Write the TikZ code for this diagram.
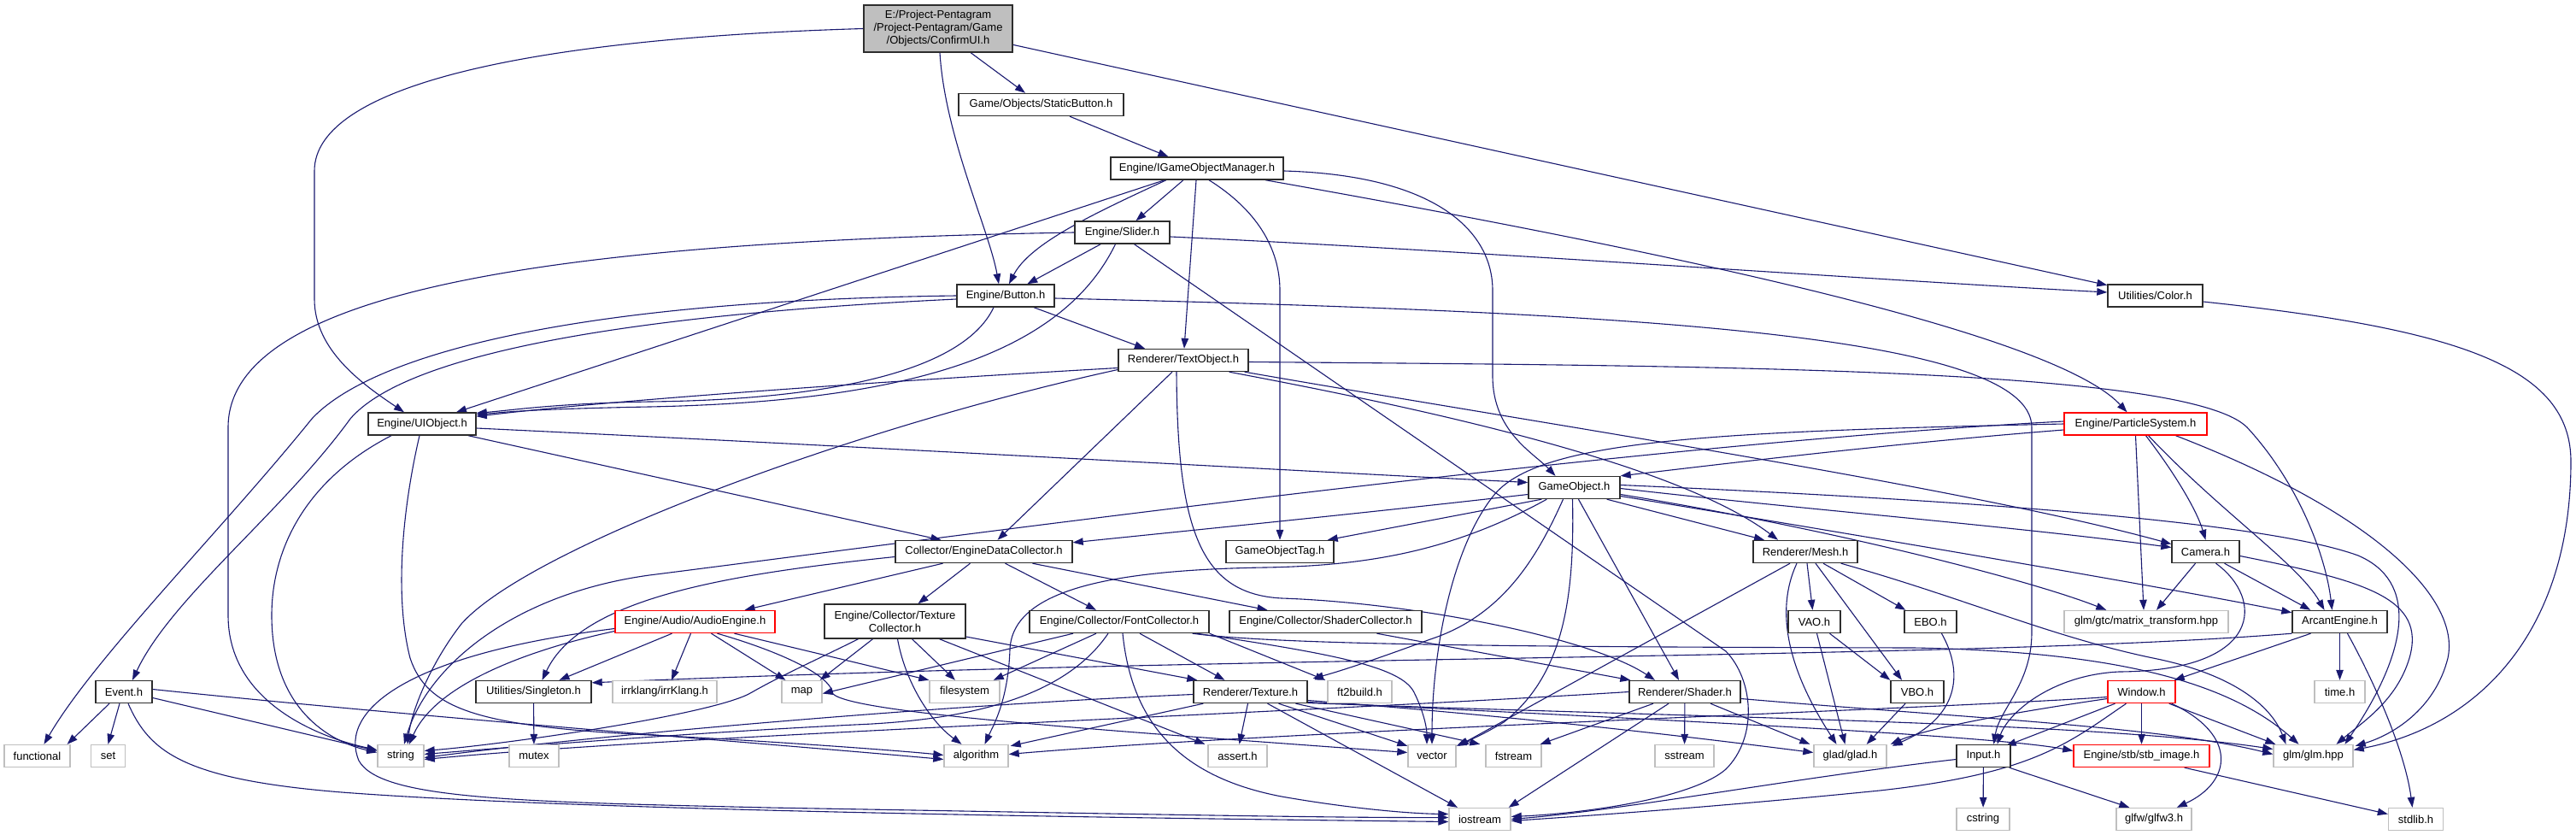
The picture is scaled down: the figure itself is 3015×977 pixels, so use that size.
\documentclass[tikz,border=0pt]{standalone}
\usepackage{fontspec}
\setmainfont{Liberation Sans}
\usetikzlibrary{arrows.meta,calc}
\definecolor{edgecol}{RGB}{25,25,112}
\definecolor{nodebd}{RGB}{45,45,45}
\definecolor{extbd}{RGB}{191,191,191}
\definecolor{redbd}{RGB}{255,0,0}
\definecolor{rootfill}{RGB}{191,191,191}
\pgfdeclarelayer{back}
\pgfdeclarelayer{bg}
\pgfsetlayers{back,bg,main}
\tikzset{
  nb/.style={draw=nodebd, line width=1.4pt, fill=white, minimum height=26pt, inner sep=0pt, font=\fontsize{13}{15}\selectfont, text=black},
  ext/.style={nb, draw=extbd},
  redn/.style={nb, draw=redbd},
  rootn/.style={nb, fill=rootfill, align=center},
  dep/.style={draw=edgecol, line width=1.1pt, -{Triangle[length=12pt,width=8.5pt]}}
}
\begin{document}
\begin{tikzpicture}[x=1pt,y=-1pt]
\begin{pgfonlayer}{back}
\fill[white] (0,0) rectangle (3015,977);
\end{pgfonlayer}
\useasboundingbox (0,0) rectangle (3015,977);

% ---------------- nodes ----------------
\node[rootn, minimum width=174pt, minimum height=55pt] (root) at (1098,33.5) {E:/Project-Pentagram\\/Project-Pentagram/Game\\/Objects/ConfirmUI.h};
\node[nb, minimum width=193pt] (sbtn) at (1218.5,122.5) {Game/Objects/StaticButton.h};
\node[nb, minimum width=202pt] (igom) at (1401,197) {Engine/IGameObjectManager.h};
\node[nb, minimum width=111pt] (slider) at (1313.5,272) {Engine/Slider.h};
\node[nb, minimum width=114pt] (button) at (1177,346) {Engine/Button.h};
\node[nb, minimum width=111pt] (color) at (2522.5,346) {Utilities/Color.h};
\node[nb, minimum width=152pt] (textobj) at (1385,421.5) {Renderer/TextObject.h};
\node[nb, minimum width=126pt] (uiobj) at (494,496) {Engine/UIObject.h};
\node[redn, minimum width=167pt] (particle) at (2499.5,496) {Engine/ParticleSystem.h};
\node[nb, minimum width=107pt] (gameobj) at (1842.5,570.5) {GameObject.h};
\node[nb, minimum width=207pt] (edc) at (1151.5,645.5) {Collector/EngineDataCollector.h};
\node[nb, minimum width=126pt] (gotag) at (1498,645.5) {GameObjectTag.h};
\node[nb, minimum width=122pt] (mesh) at (2113,645.5) {Renderer/Mesh.h};
\node[nb, minimum width=79pt] (camera) at (2581.5,645.5) {Camera.h};
\node[redn, minimum width=187pt] (audio) at (813.5,727.5) {Engine/Audio/AudioEngine.h};
\node[nb, minimum width=165pt, minimum height=40pt, align=center] (texcol) at (1047.5,727) {Engine/Collector/Texture\\Collector.h};
\node[nb, minimum width=210pt] (fontcol) at (1310,727.5) {Engine/Collector/FontCollector.h};
\node[nb, minimum width=225pt] (shadercol) at (1551.5,727.5) {Engine/Collector/ShaderCollector.h};
\node[nb, minimum width=61pt] (vao) at (2123.5,727.5) {VAO.h};
\node[nb, minimum width=61pt] (ebo) at (2259.5,727.5) {EBO.h};
\node[ext, minimum width=192pt] (glmmt) at (2512,727.5) {glm/gtc/matrix\_transform.hpp};
\node[nb, minimum width=111pt] (arcant) at (2738.5,727.5) {ArcantEngine.h};
\node[nb, minimum width=66pt] (event) at (145,809.5) {Event.h};
\node[nb, minimum width=135pt] (singleton) at (624.5,809.5) {Utilities/Singleton.h};
\node[ext, minimum width=122pt] (irrklang) at (778,809.5) {irrklang/irrKlang.h};
\node[ext, minimum width=47pt] (map) at (938.5,809.5) {map};
\node[ext, minimum width=82pt] (filesystem) at (1129,809.5) {filesystem};
\node[nb, minimum width=133pt] (texture) at (1463.5,809.5) {Renderer/Texture.h};
\node[ext, minimum width=75pt] (ft2) at (1591.5,809.5) {ft2build.h};
\node[nb, minimum width=130pt] (shader) at (1972,809.5) {Renderer/Shader.h};
\node[nb, minimum width=62pt] (vbo) at (2244,809.5) {VBO.h};
\node[redn, minimum width=79pt] (window) at (2506.5,809.5) {Window.h};
\node[ext, minimum width=59pt] (timeh) at (2738.5,809.5) {time.h};
\node[ext, minimum width=77pt] (functional) at (43.5,884.5) {functional};
\node[ext, minimum width=40pt] (set) at (126.5,884.5) {set};
\node[ext, minimum width=54pt] (string) at (469,884.5) {string};
\node[ext, minimum width=58pt] (mutex) at (625,884.5) {mutex};
\node[ext, minimum width=75pt] (algorithm) at (1142.5,884.5) {algorithm};
\node[ext, minimum width=69pt] (asserth) at (1448.5,884.5) {assert.h};
\node[ext, minimum width=56pt] (vector) at (1676,884.5) {vector};
\node[ext, minimum width=65pt] (fstream) at (1771.5,884.5) {fstream};
\node[ext, minimum width=69pt] (sstream) at (1971.5,884.5) {sstream};
\node[ext, minimum width=85pt] (glad) at (2165.5,884.5) {glad/glad.h};
\node[nb, minimum width=63pt] (input) at (2321.5,884.5) {Input.h};
\node[redn, minimum width=159pt] (stb) at (2506.5,884.5) {Engine/stb/stb\_image.h};
\node[ext, minimum width=93pt] (glm) at (2707.5,884.5) {glm/glm.hpp};
\node[ext, minimum width=72pt] (iostream) at (1732,958.5) {iostream};
\node[ext, minimum width=62pt] (cstring) at (2321,958.5) {cstring};
\node[ext, minimum width=88pt] (glfw) at (2521,958.5) {glfw/glfw3.h};
\node[ext, minimum width=64pt] (stdlib) at (2827.5,958.5) {stdlib.h};

% ---------------- edges ----------------
\begin{pgfonlayer}{bg}
% root
\draw[dep] (root) -- (sbtn);
\draw[dep] (root) -- (color);
\draw[dep] ($(root.south)+(2,0)$) .. controls (1106,160) and (1158,270) .. ($(button.north)+(-8,0)$);
\draw[dep] (root.west) .. controls (620,45) and (368,100) .. (368,200) -- (368,350) .. controls (368,410) and (425,450) .. ($(uiobj.north)+(-21,0)$);
% static button
\draw[dep] (sbtn) -- (igom);
% igom
\draw[dep] (igom) -- (slider);
\draw[dep] ($(igom.south)+(-36,0)$) .. controls (1280,250) and (1205,285) .. ($(button.north)+(4,0)$);
\draw[dep] ($(igom.south)+(-38,0)$) -- ($(uiobj.north)+(40,0)$);
\draw[dep] (igom) -- (textobj);
\draw[dep] ($(igom.south)+(14,0)$) .. controls (1470,245) and (1498,290) .. (1498,340) -- (gotag.north);
\draw[dep] ($(igom.east)+(0,3)$) .. controls (1680,205) and (1747,270) .. (1747,340) -- (1747,440) .. controls (1747,505) and (1795,530) .. ($(gameobj.north)+(-22,0)$);
\draw[dep] ($(igom.south)+(80,0)$) .. controls (1900,285) and (2400,385) .. ($(particle.north)+(-10,0)$);
% slider
\draw[dep] (slider) -- (button);
\draw[dep] ($(slider.south)+(-8,0)$) .. controls (1240,420) and (1050,470) .. (760,476) .. controls (650,478) and (600,481) .. ($(uiobj.north east)+(0,3)$);
\draw[dep] ($(slider.east)+(0,5)$) .. controls (1700,292) and (2200,328) .. ($(color.west)+(0,-4)$);
\draw[dep] (slider.west) .. controls (700,282) and (267,330) .. (267,500) -- (267,720) .. controls (267,820) and (370,862) .. ($(string.west)+(0,-7)$);
\draw[dep] ($(slider.south)+(14,0)$) -- (2020,762) .. controls (2052,795) and (2058,862) .. (2020,900) .. controls (1980,935) and (1850,952) .. ($(iostream.east)+(0,-3)$);
% button
\draw[dep] ($(button.south)+(-14,0)$) .. controls (1125,440) and (950,468) .. (760,470) .. controls (650,472) and (600,480) .. ($(uiobj.north east)+(0,1)$);
\draw[dep] ($(button.south)+(33,0)$) -- ($(textobj.north)+(-45,0)$);
\draw[dep] (button.west) .. controls (650,352) and (430,420) .. (365,490) .. controls (260,620) and (110,770) .. ($(functional.north)+(8,0)$);
\draw[dep] ($(button.west)+(0,4)$) .. controls (700,370) and (470,420) .. (410,490) .. controls (330,600) and (200,700) .. ($(event.north)+(10,0)$);
\draw[dep] ($(button.east)+(0,3)$) .. controls (1900,365) and (2378,390) .. (2378,500) -- (2378,740) .. controls (2378,800) and (2340,830) .. ($(input.north)+(12,0)$);
% text object
\draw[dep] ($(textobj.west)+(0,9)$) .. controls (1000,448) and (700,470) .. ($(uiobj.north east)+(0,5)$);
\draw[dep] ($(textobj.west)+(0,11)$) .. controls (1000,500) and (620,640) .. (540,730) .. controls (505,775) and (482,830) .. ($(string.north)+(8,0)$);
\draw[dep] ($(textobj.south)+(-13,0)$) -- ($(edc.north)+(16,0)$);
\draw[dep] ($(textobj.south)+(-8,0)$) .. controls (1378,620) and (1405,695) .. (1500,700) .. controls (1650,705) and (1860,745) .. ($(shader.north)+(-35,0)$);
\draw[dep] ($(textobj.south east)+(-23,0)$) .. controls (1650,475) and (1960,540) .. ($(mesh.north)+(-32,0)$);
\draw[dep] ($(textobj.south east)+(-5,0)$) .. controls (1800,495) and (2300,570) .. ($(camera.west)+(0,-9)$);
\draw[dep] ($(textobj.east)+(0,2)$) .. controls (2000,428) and (2560,430) .. (2630,500) .. controls (2690,565) and (2722,650) .. ($(arcant.north)+(-9,0)$);
% ui object
\draw[dep] ($(uiobj.east)+(0,5)$) .. controls (1000,522) and (1500,550) .. ($(gameobj.west)+(0,-6)$);
\draw[dep] ($(uiobj.south)+(54,0)$) -- ($(edc.north)+(-50,0)$);
\draw[dep] ($(uiobj.south)+(-36,0)$) .. controls (360,560) and (318,640) .. (318,720) .. controls (318,820) and (375,865) .. ($(string.west)+(0,-4)$);
\draw[dep] ($(uiobj.south)+(-3,0)$) .. controls (470,600) and (462,700) .. (480,770) .. controls (500,830) and (560,850) .. (760,860) .. controls (900,867) and (1050,878) .. ($(algorithm.west)+(0,-1)$);
% engine data collector
\draw[dep] ($(edc.west)+(0,6)$) .. controls (850,672) and (680,700) .. ($(singleton.north)+(10,0)$);
\draw[dep] ($(edc.south)+(-48,0)$) -- ($(audio.north)+(58,0)$);
\draw[dep] ($(edc.south)+(-16,0)$) -- ($(texcol.north)+(27,0)$);
\draw[dep] ($(edc.south)+(25,0)$) -- ($(fontcol.north)+(-27,0)$);
\draw[dep] ($(edc.south)+(57,0)$) -- ($(shadercol.north)+(-68,0)$);
% audio
\draw[dep] ($(audio.south)+(-27,0)$) -- ($(singleton.north)+(30,0)$);
\draw[dep] ($(audio.south)+(-5,0)$) -- ($(irrklang.north)+(8,0)$);
\draw[dep] ($(audio.south)+(19,0)$) -- ($(map.north)+(-19,0)$);
\draw[dep] ($(audio.south)+(46,0)$) -- (filesystem.north west);
\draw[dep] ($(audio.south)+(26,0)$) .. controls (905,760) and (972,788) .. (975,812) .. controls (1000,835) and (1300,855) .. ($(vector.west)+(0,-4)$);
\draw[dep] ($(audio.west)+(0,11)$) .. controls (620,760) and (510,800) .. ($(string.north)+(10,0)$);
\draw[dep] ($(audio.west)+(0,8)$) .. controls (480,765) and (395,830) .. (420,890) .. controls (445,935) and (600,938) .. (900,945) .. controls (1300,952) and (1550,957) .. ($(iostream.west)+(0,-2)$);
% texture collector
\draw[dep] ($(texcol.south)+(-26,0)$) -- ($(map.north east)+(-3,0)$);
\draw[dep] ($(texcol.south)+(20,0)$) -- ($(filesystem.north)+(-11,0)$);
\draw[dep] ($(texcol.south)+(3,0)$) .. controls (1060,800) and (1090,845) .. ($(algorithm.north)+(-17,0)$);
\draw[dep] ($(texcol.south)+(-43,0)$) .. controls (960,770) and (915,790) .. (880,810) .. controls (840,835) and (600,870) .. ($(string.east)+(0,-6)$);
\draw[dep] ($(texcol.south)+(52,0)$) -- ($(asserth.north west)+(-3,0)$);
\draw[dep] ($(texcol.east)+(0,18)$) -- ($(texture.north west)+(5,0)$);
% font collector
\draw[dep] ($(fontcol.south)+(-54,0)$) -- ($(map.east)+(0,2)$);
\draw[dep] ($(fontcol.south)+(-27,0)$) -- ($(filesystem.north east)+(-8,0)$);
\draw[dep] ($(fontcol.south)+(-13,0)$) .. controls (1250,810) and (1150,842) .. (1000,848) .. controls (800,858) and (600,874) .. ($(string.east)+(0,-2)$);
\draw[dep] ($(fontcol.south)+(24,0)$) -- ($(texture.north)+(-30,0)$);
\draw[dep] ($(fontcol.south)+(4,0)$) .. controls (1325,850) and (1385,910) .. (1500,932) .. controls (1580,946) and (1650,952) .. ($(iostream.west)+(0,-6)$);
\draw[dep] ($(fontcol.south east)+(-15,0)$) .. controls (1560,765) and (1640,780) .. (1655,810) .. controls (1665,830) and (1670,850) .. ($(vector.north)+(-6,0)$);
\draw[dep] (fontcol.south east) -- ($(ft2.north west)+(-2,0)$);
\draw[dep] ($(fontcol.south east)+(-20,0)$) .. controls (1500,755) and (1800,757) .. (2240,758) .. controls (2450,762) and (2600,790) .. ($(glm.north)+(-17,0)$);
% texture
\draw[dep] ($(texture.west)+(0,3)$) .. controls (1100,825) and (700,860) .. ($(string.east)+(0,2)$);
\draw[dep] ($(texture.south west)+(12,0)$) -- ($(algorithm.north east)+(2,2)$);
\draw[dep] ($(texture.south)+(-3,0)$) -- ($(asserth.north)+(2,0)$);
\draw[dep] ($(texture.south)+(33,0)$) -- ($(vector.north west)+(0,2)$);
\draw[dep] ($(texture.south)+(53,0)$) -- ($(fstream.north west)+(-6,0)$);
\draw[dep] ($(texture.south)+(20,0)$) -- ($(iostream.north)+(-26,0)$);
\draw[dep] ($(texture.east)+(0,10)$) .. controls (1800,840) and (2000,865) .. ($(glad.west)+(0,-4)$);
\draw[dep] ($(texture.east)+(0,12)$) .. controls (1900,840) and (2330,860) .. ($(stb.west)+(0,-6)$);
\draw[dep] ($(texture.east)+(0,13)$) .. controls (2000,840) and (2450,845) .. ($(glm.west)+(0,-8)$);
% shader
\draw[dep] ($(shader.south)+(-37,0)$) -- ($(fstream.north east)+(-2,0)$);
\draw[dep] ($(shader.south)+(-19,0)$) -- ($(iostream.north east)+(-3,0)$);
\draw[dep] (shader) -- (sstream);
\draw[dep] ($(shader.south)+(30,0)$) -- ($(glad.north west)+(-4,0)$);
\draw[dep] ($(shader.east)+(0,8)$) .. controls (2300,840) and (2530,850) .. ($(glm.west)+(0,-2)$);
\draw[dep] (shader.west) .. controls (1500,835) and (800,860) .. ($(string.east)+(0,4)$);
% shader collector
\draw[dep] ($(shadercol.south)+(60,0)$) -- ($(shader.north west)+(2,0)$);
% mesh
\draw[dep] ($(mesh.south)+(-18,0)$) -- ($(vector.north east)+(2,2)$);
\draw[dep] ($(mesh.south)+(-10,0)$) .. controls (2070,730) and (2110,810) .. ($(glad.north)+(-16,0)$);
\draw[dep] ($(mesh.south)+(2,0)$) -- ($(vao.north)+(-2,0)$);
\draw[dep] ($(mesh.south)+(12,0)$) -- ($(vbo.north)+(-18,0)$);
\draw[dep] ($(mesh.south)+(21,0)$) -- ($(ebo.north west)+(2,0)$);
\draw[dep] ($(mesh.south east)+(-20,0)$) .. controls (2300,700) and (2400,745) .. (2520,770) .. controls (2620,790) and (2660,830) .. ($(glm.north)+(-32,0)$);
% vao vbo ebo
\draw[dep] ($(vao.south)+(3,0)$) -- ($(glad.north)+(-6,0)$);
\draw[dep] ($(vao.south)+(18,0)$) -- (vbo.north west);
\draw[dep] ($(vbo.south)+(-14,0)$) -- ($(glad.north east)+(-24,0)$);
\draw[dep] ($(ebo.south)+(13,0)$) .. controls (2300,790) and (2290,840) .. ($(glad.north east)+(6,2)$);
% camera
\draw[dep] ($(camera.south)+(-12,0)$) -- ($(glmmt.north)+(12,0)$);
\draw[dep] ($(camera.south)+(22,0)$) -- ($(arcant.north west)+(22,0)$);
\draw[dep] ($(camera.east)+(0,5)$) .. controls (2770,680) and (2840,700) .. (2820,770) .. controls (2805,820) and (2765,845) .. ($(glm.north)+(27,0)$);
\draw[dep] ($(camera.south)+(12,0)$) .. controls (2650,700) and (2650,785) .. (2480,786) .. controls (2400,790) and (2350,835) .. ($(input.north)+(16,0)$);
% particle system
\draw[dep] ($(particle.west)+(0,7)$) .. controls (2200,520) and (2000,545) .. (gameobj.north east);
\draw[dep] ($(particle.west)+(0,-3)$) .. controls (1900,520) and (1100,630) .. (760,673) .. controls (600,695) and (500,780) .. ($(string.north)+(4,0)$);
\draw[dep] (particle.west) .. controls (2000,505) and (1800,515) .. (1748,580) .. controls (1700,640) and (1676,760) .. (vector.north);
\draw[dep] (particle.south) -- ($(glmmt.north)+(-3,0)$);
\draw[dep] ($(particle.south)+(12,0)$) .. controls (2550,560) and (2572,600) .. (camera.north);
\draw[dep] ($(particle.south)+(15,0)$) .. controls (2600,600) and (2690,660) .. ($(arcant.north)+(-18,0)$);
\draw[dep] ($(particle.south)+(47,0)$) .. controls (2780,600) and (2880,700) .. (2865,770) .. controls (2850,830) and (2800,860) .. ($(glm.north east)+(2,2)$);
% color
\draw[dep] ($(color.east)+(0,7)$) .. controls (2880,385) and (3009,430) .. (3009,540) .. controls (3009,740) and (2900,850) .. ($(glm.east)+(0,-7)$);
% arcant engine
\draw[dep] ($(arcant.south)+(-34,0)$) -- ($(window.north east)+(-2,0)$);
\draw[dep] (arcant) -- (timeh);
\draw[dep] ($(arcant.south)+(9,0)$) .. controls (2780,800) and (2815,880) .. ($(stdlib.north)+(-4,0)$);
\draw[dep] (arcant.south west) .. controls (2300,772) and (1500,765) .. ($(singleton.north east)+(0,3)$);
% window
\draw[dep] ($(window.south)+(-31,0)$) -- ($(input.north east)+(-6,2)$);
\draw[dep] ($(window.west)+(0,8)$) .. controls (2380,830) and (2260,850) .. ($(glad.north east)+(4,0)$);
\draw[dep] (window) -- (stb);
\draw[dep] ($(window.south east)+(-8,0)$) -- ($(glm.north west)+(3,0)$);
\draw[dep] ($(window.south east)+(-5,0)$) .. controls (2620,860) and (2612,915) .. ($(glfw.north east)+(-18,0)$);
\draw[dep] ($(window.south)+(-18,0)$) .. controls (2420,870) and (2380,905) .. (2200,925) .. controls (2000,945) and (1850,955) .. ($(iostream.east)+(0,2)$);
\draw[dep] ($(window.west)+(0,6)$) .. controls (2300,828) and (1500,855) .. ($(algorithm.east)+(0,-2)$);
% input
\draw[dep] (input) -- (cstring);
\draw[dep] ($(input.south east)+(-2,0)$) -- ($(glfw.north west)+(16,0)$);
\draw[dep] ($(input.west)+(0,4)$) .. controls (2100,910) and (1900,948) .. (iostream.east);
% stb
\draw[dep] ($(stb.south east)+(-30,0)$) -- ($(stdlib.west)+(0,-6)$);
% event
\draw[dep] ($(event.south)+(-17,0)$) -- ($(functional.north east)+(-4,0)$);
\draw[dep] ($(event.south)+(-5,0)$) -- (set.north);
\draw[dep] ($(event.east)+(0,7)$) -- ($(string.west)+(0,-6)$);
\draw[dep] ($(event.south)+(5,0)$) .. controls (175,880) and (215,912) .. (400,927) .. controls (700,950) and (1400,958) .. ($(iostream.west)+(0,3)$);
\draw[dep] ($(event.east)+(0,-3)$) .. controls (500,840) and (900,870) .. ($(algorithm.west)+(0,4)$);
% singleton
\draw[dep] (singleton) -- (mutex);
% game object
\draw[dep] ($(gameobj.west)+(0,8)$) .. controls (1600,600) and (1400,620) .. ($(edc.north east)+(0,3)$);
\draw[dep] ($(gameobj.south west)+(16,0)$) -- ($(gotag.north east)+(-8,0)$);
\draw[dep] ($(gameobj.south west)+(22,0)$) .. controls (1700,645) and (1600,662) .. (1480,664) .. controls (1300,667) and (1185,690) .. (1182,760) .. controls (1180,820) and (1162,850) .. ($(algorithm.north)+(10,0)$);
\draw[dep] ($(gameobj.south)+(-13,0)$) .. controls (1800,650) and (1760,720) .. (1674,748) .. controls (1620,768) and (1570,785) .. ($(texture.north east)+(6,-2)$);
\draw[dep] ($(gameobj.south)+(-2,0)$) .. controls (1843,700) and (1830,790) .. (1760,845) .. controls (1735,860) and (1720,866) .. ($(vector.north east)+(0,2)$);
\draw[dep] ($(gameobj.south)+(5,0)$) -- ($(shader.north)+(-7,0)$);
\draw[dep] ($(gameobj.south east)+(-16,0)$) -- ($(mesh.north)+(-48,0)$);
\draw[dep] ($(gameobj.east)+(0,1)$) .. controls (2100,595) and (2350,615) .. ($(camera.west)+(0,-5)$);
\draw[dep] ($(gameobj.east)+(0,8)$) .. controls (2150,620) and (2380,680) .. ($(glmmt.north west)+(50,0)$);
\draw[dep] ($(gameobj.east)+(0,10)$) .. controls (2200,630) and (2550,690) .. ($(arcant.north west)+(0,3)$);
\draw[dep] ($(gameobj.east)+(0,-3)$) .. controls (2300,585) and (2650,610) .. (2760,650) .. controls (2830,680) and (2820,760) .. ($(glm.north)+(37,0)$);
\end{pgfonlayer}
\end{tikzpicture}
\end{document}
